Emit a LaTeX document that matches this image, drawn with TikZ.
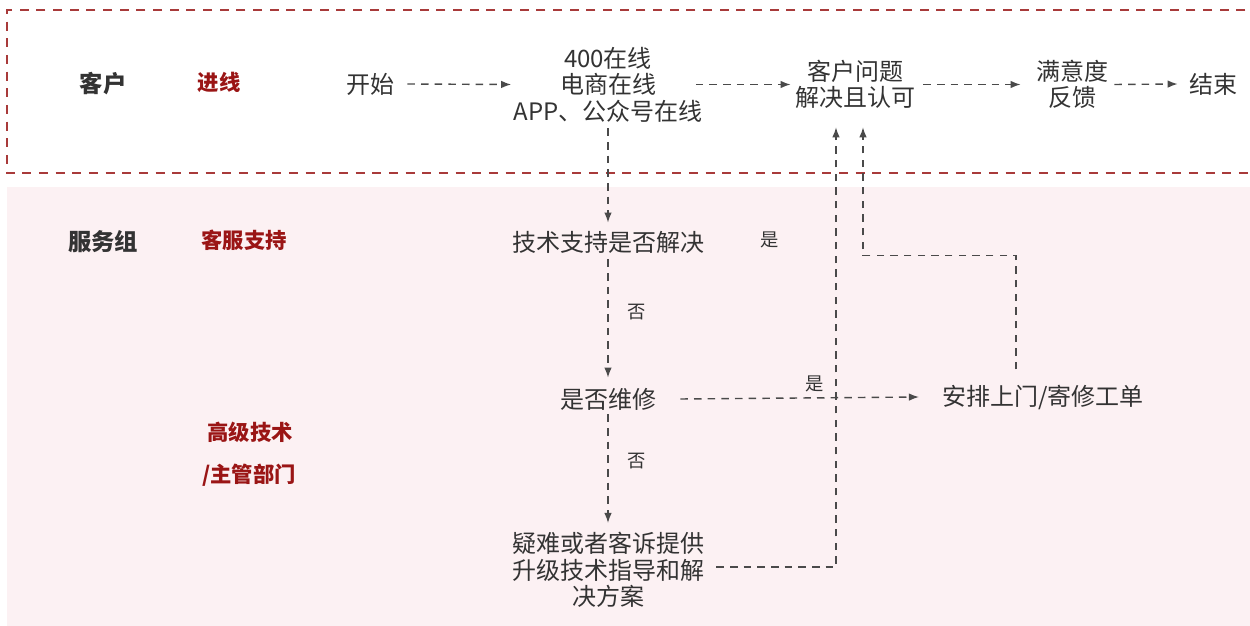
\documentclass[tikz,border=0pt]{standalone}
\usepackage{fontspec}
\setmainfont{Noto Sans CJK SC}
\usetikzlibrary{arrows.meta,calc}
\definecolor{txt}{HTML}{333333}
\definecolor{redlab}{HTML}{9A1515}
\definecolor{frame}{HTML}{A83A3A}
\definecolor{pinkbg}{HTML}{FCF1F3}
\definecolor{linec}{HTML}{4A4A4A}
\begin{document}
\begin{tikzpicture}[x=0.6pt,y=-0.6pt,
  every node/.style={inner sep=0pt, text=txt},
  main/.style={font=\fontsize{14.4}{15.9}\selectfont, align=center},
  lab/.style={font=\fontsize{11}{13}\selectfont},
  lane/.style={font=\fontsize{14}{16}\selectfont\bfseries},
  role/.style={font=\fontsize{12.8}{15}\selectfont\bfseries, text=redlab},
  arr/.style={draw=linec, line width=0.85pt, dash pattern=on 4.5pt off 3.7pt, -{Latex[length=6pt,width=4.5pt]}}]
\useasboundingbox (0,0) rectangle (1250,626);
\fill[pinkbg] (7,187) rectangle (1250,626);
\draw[frame, line width=1pt, dash pattern=on 5.4pt off 4.6pt] (1262,10) -- (7,10) -- (7,173) -- (1262,173);

\node[lane] (cust) at (103,84) {客户};
\node[role] (inl) at (219,82) {进线};
\node[main] (start) at (370,84) {开始};
\node[main] (online) at (608,84.5) {400在线\\电商在线\\APP、公众号在线};
\node[main] (res) at (855,84.5) {客户问题\\解决且认可};
\node[main] (sat) at (1072,84.5) {满意度\\反馈};
\node[main] (fin) at (1213,84) {结束};

\node[lane] (svc) at (103,242) {服务组};
\node[role] (cs) at (244,240) {客服支持};
\node[role] (adv1) at (250,432) {高级技术};
\node[role] (adv2) at (249,475) {/主管部门};

\node[main] (tech) at (608,242) {技术支持是否解决};
\node[lab] (yes1) at (770,240) {是};
\node[lab] (no1) at (637,312) {否};
\node[main] (fix) at (608,399) {是否维修};
\node[lab] (yes2) at (815,384) {是};
\node[main] (repair) at (1043,397) {安排上门/寄修工单};
\node[lab] (no2) at (637,461) {否};
\node[main] (hard) at (608,570) {疑难或者客诉提供\\升级技术指导和解\\决方案};

\draw[arr] ($(start.east)+(13,0)$) -- ($(online.west)+(-2,0)$);
\draw[arr] ($(online.east)+(-7,0)$) -- ($(res.west)+(-4,0)$);
\draw[arr] ($(res.east)+(8,0)$) -- ($(sat.west)+(-15,0)$);
\draw[arr] ($(sat.east)+(6,0)$) -- ($(fin.west)+(-11,0)$);
\draw[arr] ($(online.south)+(0,6)$) -- ($(tech.north)+(0,-8)$);
\draw[arr] ($(tech.south)+(0,6)$) -- ($(fix.north)+(0,-10)$);
\draw[arr] ($(fix.south)+(0,4)$) -- ($(hard.north)+(0,-9)$);
\draw[arr] ($(fix.east)+(24,0)$) -- ($(repair.west)+(-23,0)$);
\draw[arr] ($(hard.east)+(12,-3)$) -| ($(res.south)+(-19,18)$);
\draw[arr] ($(repair.north)+(-27,-15)$) -- ++(0,-114) -| ($(res.south)+(8,18)$);
\end{tikzpicture}
\end{document}
